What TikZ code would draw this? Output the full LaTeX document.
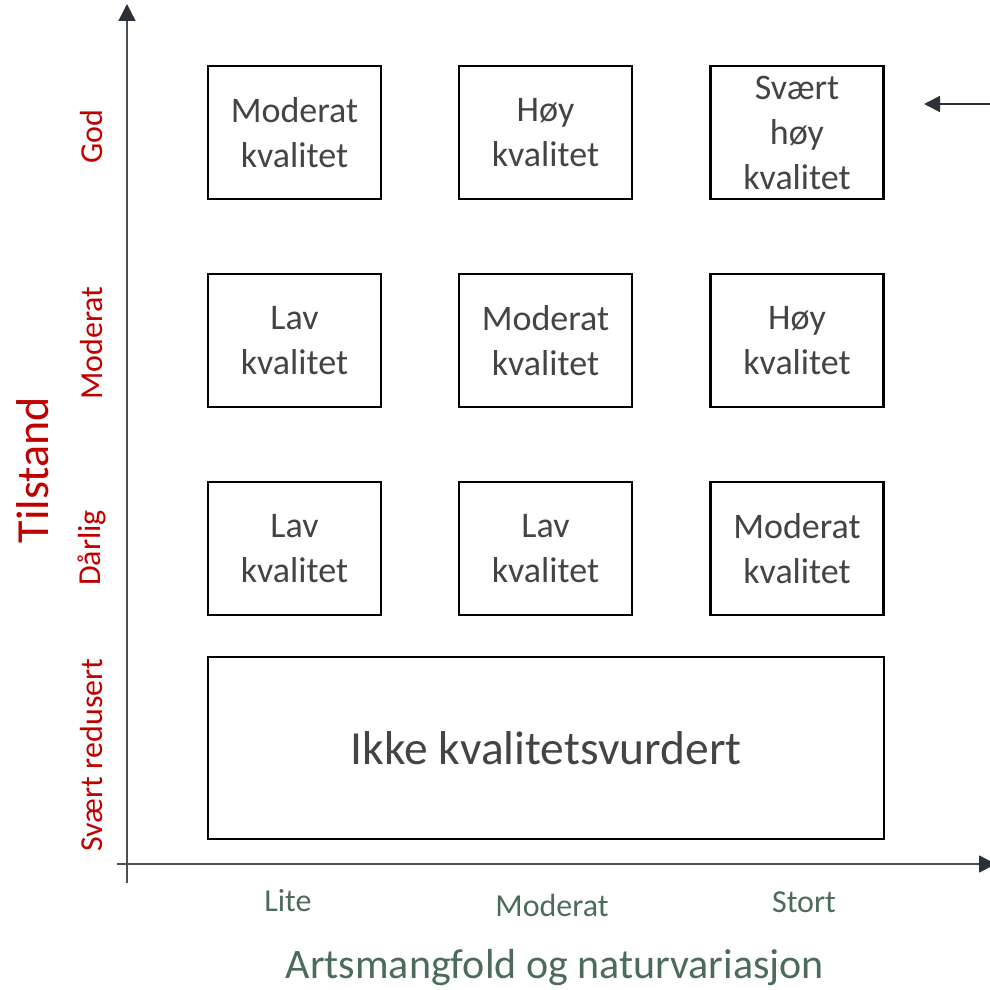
\documentclass[tikz,border=0pt]{standalone}
\usepackage{fontspec}
\setmainfont{Carlito}
\usetikzlibrary{arrows.meta}
\definecolor{boxtext}{HTML}{444444}
\definecolor{axred}{HTML}{C00000}
\definecolor{axgreen}{HTML}{4C6B5B}
\definecolor{axline}{HTML}{4A4F55}
\definecolor{tipcol}{HTML}{2B3138}
\tikzset{
  qbox/.style={draw=black, line width=2.2pt, minimum width=173pt, minimum height=133pt,
    inner sep=0pt, align=center, text=boxtext, font=\fontsize{36}{45}\selectfont},
  redlab/.style={text=axred, rotate=90, font=\fontsize{32}{36}\selectfont, inner sep=0pt},
  botlab/.style={text=axgreen, font=\fontsize{32}{36}\selectfont, inner sep=0pt},
  axisline/.style={draw=axline, line width=1.4pt},
  axtip/.style={-{Triangle[length=17pt,width=17pt,fill=tipcol,color=tipcol]}}
}
\begin{document}
\begin{tikzpicture}[x=1pt,y=-1pt]
\useasboundingbox (0,0) rectangle (989,990);
% axes
\coordinate (ybot) at (127,883);
\coordinate (ytop) at (127,4);
\coordinate (xleft) at (117,864);
\coordinate (xright) at (996,864);
\draw[axisline,axtip] (ybot) -- (ytop);
\draw[axisline,axtip] (xleft) -- (xright);
% pointer arrow
\coordinate (pstart) at (995,104);
\coordinate (pend) at (924,104);
\draw[draw=tipcol,line width=1.8pt,-{Triangle[length=16pt,width=16pt]}] (pstart) -- (pend);
% boxes
\node[qbox] (b11) at (294.5,132.5) {Moderat\\kvalitet};
\node[qbox] (b12) at (545.5,132.5) {Høy\\kvalitet};
\node[qbox] (b13) at (797,132.5) {Svært\\høy\\kvalitet};
\node[qbox] (b21) at (294.5,340.5) {Lav\\kvalitet};
\node[qbox] (b22) at (545.5,340.5) {Moderat\\kvalitet};
\node[qbox] (b23) at (797,340.5) {Høy\\kvalitet};
\node[qbox] (b31) at (294.5,548.5) {Lav\\kvalitet};
\node[qbox] (b32) at (545.5,548.5) {Lav\\kvalitet};
\node[qbox] (b33) at (797,548.5) {Moderat\\kvalitet};
\node[qbox, minimum width=676pt, minimum height=182pt, font=\fontsize{47.5}{52}\selectfont] (b4) at (546,748) {Ikke kvalitetsvurdert};
% y labels
\node[redlab] (lgod) at (91,137) {God};
\node[redlab] (lmod) at (92,343) {Moderat};
\node[redlab] (ldar) at (92,548) {Dårlig};
\node[redlab] (lsv) at (92,755) {Svært redusert};
\node[redlab, font=\fontsize{46}{50}\selectfont] (ltil) at (33,470) {Tilstand};
% x labels
\node[botlab] (xlite) at (288,901) {Lite};
\node[botlab] (xmod) at (552,905) {Moderat};
\node[botlab] (xsto) at (804,902) {Stort};
\node[botlab, font=\fontsize{42}{46}\selectfont] (xtit) at (555,968) {Artsmangfold og naturvariasjon};
\end{tikzpicture}
\end{document}
